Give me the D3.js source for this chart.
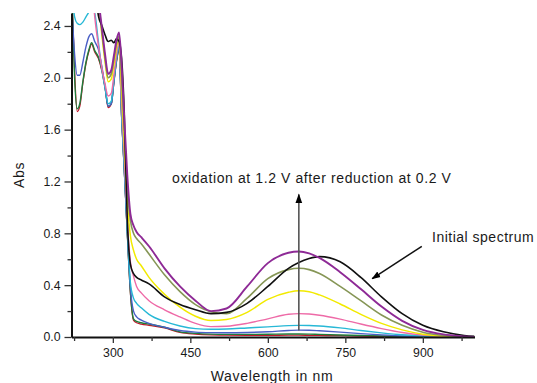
<!DOCTYPE html>
<html>
<head>
<meta charset="utf-8">
<script src="https://cdn.jsdelivr.net/npm/d3@7"></script>
<style>
  body { margin: 0; background: #fff; }
  text { font-family: Arial, 'Liberation Sans', sans-serif; fill: #1a1a1a; }
</style>
</head>
<body>
<div id="chart"></div>
<script>
// wavelengths (nm) shared by every spectrum
const wavelengths = [222, 226, 231, 236, 242, 248, 254, 259, 265, 272, 279, 285, 291, 297, 302, 307, 312, 317, 322, 328, 334,
  340, 346, 355, 370, 400, 430, 460, 490, 520, 560, 600, 640, 660, 680, 700, 740, 780, 820, 860, 900, 940, 980, 1000]

const initialSpectrum = [2.9, 2.9, 2.85, 2.85, 2.9, 2.95, 3.0, 3.0, 2.75, 2.48, 2.4, 2.33, 2.28, 2.29, 2.27, 2.3, 2.28, 2.15, 1.75, 0.9, 0.56,
  0.49, 0.46, 0.44, 0.41, 0.31, 0.25, 0.21, 0.18, 0.19, 0.26, 0.39, 0.53, 0.575, 0.605, 0.62, 0.58, 0.46, 0.31, 0.18, 0.09, 0.04, 0.012, 0.005]
const scanRed = [2.5, 2.05, 1.74, 1.78, 1.96, 2.11, 2.21, 2.26, 2.2, 2.15, 2.05, 1.92, 1.77, 1.8, 1.96, 2.12, 2.22, 1.7, 1.3, 0.8, 0.34,
  0.13, 0.11, 0.1, 0.09, 0.07, 0.035, 0.022, 0.016, 0.014, 0.013, 0.013, 0.014, 0.014, 0.013, 0.012, 0.01, 0.007, 0.005, 0.003, 0.002, 0.001, 0, 0]
const scanGreen = [2.5, 2.0, 1.76, 1.8, 1.97, 2.12, 2.22, 2.27, 2.21, 2.16, 2.06, 1.93, 1.78, 1.8, 1.97, 2.13, 2.23, 1.7, 1.3, 0.8, 0.35,
  0.14, 0.12, 0.11, 0.1, 0.075, 0.04, 0.028, 0.022, 0.02, 0.02, 0.021, 0.023, 0.023, 0.022, 0.02, 0.016, 0.012, 0.008, 0.005, 0.003, 0.001, 0, 0]
const scanBlue = [2.45, 2.18, 2.02, 2.02, 2.12, 2.24, 2.32, 2.34, 2.28, 2.22, 2.08, 1.93, 1.78, 1.8, 1.97, 2.14, 2.24, 1.71, 1.31, 0.81, 0.38,
  0.2, 0.155, 0.13, 0.105, 0.075, 0.05, 0.038, 0.034, 0.033, 0.035, 0.04, 0.05, 0.053, 0.052, 0.048, 0.038, 0.026, 0.016, 0.008, 0.004, 0.001, 0, 0]
const scanCyan = [2.62, 2.47, 2.42, 2.41, 2.43, 2.47, 2.51, 2.55, 2.5, 2.28, 2.06, 1.92, 1.8, 1.82, 1.98, 2.15, 2.25, 1.72, 1.32, 0.82, 0.42,
  0.3, 0.26, 0.225, 0.175, 0.12, 0.085, 0.065, 0.06, 0.062, 0.07, 0.078, 0.088, 0.09, 0.089, 0.085, 0.07, 0.05, 0.032, 0.017, 0.008, 0.003, 0.001, 0]
const scanPink = [3.0, 2.95, 2.9, 2.9, 2.95, 3.0, 3.0, 2.75, 2.47, 2.25, 2.07, 1.95, 1.86, 1.88, 2.02, 2.18, 2.27, 1.8, 1.4, 0.9, 0.58,
  0.47, 0.39, 0.34, 0.28, 0.21, 0.155, 0.105, 0.08, 0.083, 0.105, 0.14, 0.175, 0.18, 0.177, 0.168, 0.138, 0.1, 0.065, 0.035, 0.015, 0.005, 0.001, 0]
const scanYellow = [3.0, 3.0, 2.95, 2.95, 3.0, 3.05, 3.1, 3.1, 2.95, 2.62, 2.32, 2.12, 1.97, 1.99, 2.1, 2.23, 2.3, 1.9, 1.5, 1.05, 0.78,
  0.67, 0.6, 0.55, 0.46, 0.33, 0.23, 0.16, 0.127, 0.135, 0.19, 0.29, 0.345, 0.357, 0.35, 0.325, 0.255, 0.175, 0.105, 0.055, 0.022, 0.007, 0.002, 0]
const scanOlive = [2.95, 2.95, 2.9, 2.9, 2.95, 3.0, 3.05, 3.05, 2.9, 2.6, 2.35, 2.15, 2.0, 2.03, 2.14, 2.26, 2.32, 2.0, 1.6, 1.15, 0.9,
  0.8, 0.76, 0.72, 0.64, 0.48, 0.35, 0.25, 0.195, 0.18, 0.3, 0.45, 0.52, 0.53, 0.52, 0.49, 0.39, 0.28, 0.17, 0.09, 0.037, 0.012, 0.003, 0]
const scanPurple = [3.0, 3.0, 2.95, 2.95, 3.0, 3.05, 3.1, 3.1, 2.95, 2.62, 2.38, 2.18, 2.03, 2.06, 2.17, 2.29, 2.35, 2.1, 1.7, 1.25, 0.95,
  0.86, 0.81, 0.77, 0.7, 0.53, 0.39, 0.28, 0.2, 0.22, 0.39, 0.57, 0.65, 0.66, 0.645, 0.61, 0.5, 0.37, 0.235, 0.125, 0.055, 0.02, 0.005, 0]

const yTicks = [0, 0.4, 0.8, 1.2, 1.6, 2.0, 2.4]
const yMinor = [0.2, 0.6, 1.0, 1.4, 1.8, 2.2]
const xTicks = [300, 450, 600, 750, 900]
const xMinor = [225, 375, 525, 675, 825, 975]

const series = [
  { values: scanRed, color: '#c4162c', width: 1.3 },
  { values: scanGreen, color: '#1e7d3c', width: 1.4 },
  { values: scanBlue, color: '#4a5fc6', width: 1.4 },
  { values: scanCyan, color: '#27b8d6', width: 1.4 },
  { values: scanPink, color: '#ee6aa7', width: 1.4 },
  { values: scanYellow, color: '#f2ea00', width: 1.5 },
  { values: scanOlive, color: '#869656', width: 1.6 },
  { values: initialSpectrum, color: '#111111', width: 1.6 },
  { values: scanPurple, color: '#8e2a96', width: 1.9 }
]

const width = 537
const height = 383

const x = d3.scaleLinear().domain([220, 1000]).range([71.5, 474.5])
const y = d3.scaleLinear().domain([0, 2.5]).range([337, 13])

const svg = d3.select('#chart').append('svg')
  .attr('width', width)
  .attr('height', height)

svg.append('defs').append('clipPath')
  .attr('id', 'plot-clip')
  .append('rect')
  .attr('x', x(220))
  .attr('y', y(2.5))
  .attr('width', x(1000) - x(220))
  .attr('height', y(0) - y(2.5))

svg.append('defs').append('marker')
  .attr('id', 'head')
  .attr('viewBox', '0 0 10 10')
  .attr('refX', 9)
  .attr('refY', 5)
  .attr('markerWidth', 6)
  .attr('markerHeight', 6)
  .attr('orient', 'auto')
  .append('path')
  .attr('d', 'M0,1.5 L10,5 L0,8.5 Z')

const line = d3.line()
  .x((d, i) => x(wavelengths[i]))
  .y(d => y(d))
  .curve(d3.curveMonotoneX)

svg.append('g')
  .attr('clip-path', 'url(#plot-clip)')
  .selectAll('path')
  .data(series)
  .enter().append('path')
  .attr('d', d => line(d.values))
  .attr('fill', 'none')
  .attr('stroke', d => d.color)
  .attr('stroke-width', d => d.width)
  .attr('stroke-linejoin', 'round')

// axes
const yAxis = svg.append('g')
  .attr('transform', `translate(${x(220)},0)`)
  .call(d3.axisLeft(y).tickValues(yTicks).tickFormat(d3.format('.1f')).tickSize(7).tickSizeOuter(0))
svg.append('g')
  .attr('transform', `translate(${x(220)},0)`)
  .call(d3.axisLeft(y).tickValues(yMinor).tickFormat('').tickSize(4).tickSizeOuter(0))
  .call(g => g.select('.domain').remove())

svg.append('g')
  .attr('transform', `translate(0,${y(0)})`)
  .call(d3.axisBottom(x).tickValues(xTicks).tickSize(6).tickSizeOuter(0).tickPadding(5))
svg.append('g')
  .attr('transform', `translate(0,${y(0)})`)
  .call(d3.axisBottom(x).tickValues(xMinor).tickFormat('').tickSize(4).tickSizeOuter(0))
  .call(g => g.select('.domain').remove())

svg.selectAll('.domain').attr('stroke', '#111').attr('stroke-width', 2)
svg.selectAll('.tick line').attr('stroke', '#333').attr('stroke-width', 1.3)
svg.selectAll('.tick text').attr('font-size', 12.3).attr('fill', '#222')
yAxis.selectAll('.tick text').attr('x', -11)

svg.append('text')
  .attr('transform', `translate(19,${(y(0) + y(2.5)) / 2}) rotate(-90)`)
  .attr('text-anchor', 'middle')
  .attr('dy', '0.35em')
  .attr('font-size', 14)
  .attr('letter-spacing', 0.7)
  .text('Abs')

svg.append('text')
  .attr('x', 272)
  .attr('y', 381)
  .attr('text-anchor', 'middle')
  .attr('font-size', 14)
  .attr('letter-spacing', 0.7)
  .text('Wavelength in nm')

// annotations
svg.append('line')
  .attr('x1', x(660)).attr('y1', y(0.05))
  .attr('x2', x(660)).attr('y2', y(1.1))
  .attr('stroke', '#555')
  .attr('stroke-width', 1.6)
  .attr('marker-end', 'url(#head)')

svg.append('text')
  .attr('x', 172)
  .attr('y', 183)
  .attr('font-size', 14)
  .attr('letter-spacing', 0.6)
  .text('oxidation at 1.2 V after reduction at 0.2 V')

svg.append('line')
  .attr('x1', x(898)).attr('y1', y(0.7))
  .attr('x2', x(802)).attr('y2', y(0.45))
  .attr('stroke', '#111')
  .attr('stroke-width', 1.5)
  .attr('marker-end', 'url(#head)')

svg.append('text')
  .attr('x', 432)
  .attr('y', 242)
  .attr('font-size', 14)
  .attr('letter-spacing', 0.5)
  .text('Initial spectrum')
</script>
</body>
</html>
